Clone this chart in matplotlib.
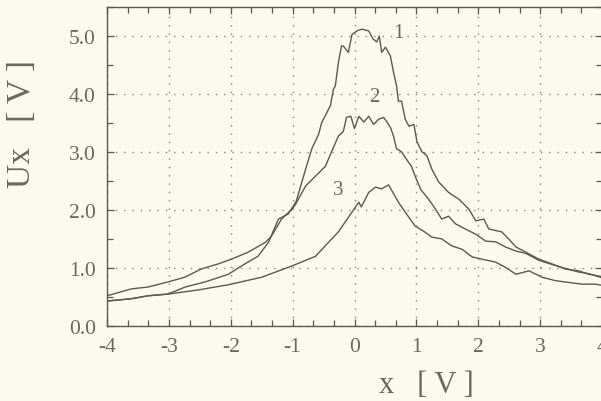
import matplotlib
matplotlib.use("Agg")
import matplotlib.pyplot as plt
from matplotlib.ticker import MultipleLocator

# values
x1 = [-4.0, -3.6, -3.34, -3.01, -2.74, -2.41, -2.04, -1.77, -1.56, -1.39, -1.23, -1.07, -0.94, -0.9,
      -0.79, -0.69, -0.58, -0.53, -0.42, -0.39, -0.34, -0.31, -0.26, -0.21, -0.18, -0.1, -0.04, 0.04,
      0.12, 0.23, 0.3, 0.36, 0.4, 0.44, 0.5, 0.58, 0.63, 0.68, 0.71, 0.76, 0.82, 0.88, 0.96, 1.01,
      1.09, 1.17, 1.25, 1.36, 1.52, 1.69, 1.85, 1.96, 2.09, 2.17, 2.38, 2.49, 2.61, 2.77, 2.98, 3.19,
      3.41, 3.62, 3.79, 4.0]
u1 = [0.43, 0.47, 0.52, 0.55, 0.67, 0.76, 0.89, 1.07, 1.2, 1.44, 1.84, 1.93, 2.15, 2.3,
      2.7, 3.05, 3.3, 3.5, 3.73, 3.79, 4.08, 4.13, 4.54, 4.82, 4.82, 4.71, 5.02, 5.08,
      5.11, 5.08, 4.94, 4.89, 4.99, 4.71, 4.8, 4.65, 4.37, 4.13, 3.87, 3.87, 3.56, 3.44, 3.47, 3.17,
      3.0, 2.93, 2.7, 2.48, 2.3, 2.18, 2.01, 1.81, 1.84, 1.67, 1.62, 1.5, 1.36, 1.27, 1.15, 1.07,
      0.98, 0.95, 0.89, 0.85]

x2 = [-4.0, -3.8, -3.6, -3.34, -3.01, -2.74, -2.48, -2.2, -1.99, -1.72, -1.44, -1.34, -1.18, -1.01,
      -0.95, -0.79, -0.63, -0.47, -0.37, -0.26, -0.18, -0.13, -0.06, 0.0, 0.07, 0.15, 0.23, 0.31,
      0.39, 0.47, 0.52, 0.58, 0.63, 0.68, 0.76, 0.84, 0.92, 0.98, 1.07, 1.2, 1.31, 1.41, 1.52, 1.63,
      1.79, 1.96, 2.12, 2.28, 2.44, 2.61, 2.77, 2.98, 3.19, 3.41, 3.62, 3.79, 4.0]
u2 = [0.52, 0.58, 0.64, 0.67, 0.76, 0.84, 0.98, 1.07, 1.15, 1.27, 1.44, 1.55, 1.84, 2.01,
      2.1, 2.41, 2.58, 2.75, 3.0, 3.27, 3.35, 3.59, 3.61, 3.4, 3.61, 3.51, 3.61, 3.47,
      3.56, 3.59, 3.52, 3.42, 3.27, 3.05, 3.0, 2.87, 2.75, 2.58, 2.35, 2.18, 2.01, 1.84, 1.89, 1.76,
      1.67, 1.58, 1.46, 1.45, 1.36, 1.29, 1.25, 1.13, 1.06, 0.99, 0.93, 0.9, 0.83]

x3 = [-4.0, -3.6, -3.34, -3.01, -2.53, -2.04, -1.5, -1.02, -0.63, -0.42, -0.26, -0.1, 0.07, 0.11,
      0.23, 0.34, 0.44, 0.55, 0.62, 0.71, 0.82, 0.98, 1.12, 1.25, 1.41, 1.57, 1.74, 1.9, 2.06,
      2.28, 2.44, 2.61, 2.82, 3.03, 3.25, 3.46, 3.68, 3.9, 4.0]
u3 = [0.43, 0.47, 0.52, 0.55, 0.62, 0.71, 0.84, 1.03, 1.2, 1.44, 1.62, 1.87, 2.13, 2.05,
      2.3, 2.39, 2.36, 2.43, 2.3, 2.13, 1.96, 1.72, 1.63, 1.53, 1.5, 1.38, 1.32, 1.19, 1.15,
      1.1, 1.01, 0.89, 0.95, 0.84, 0.78, 0.75, 0.72, 0.72, 0.7]

curve_labels = ["1", "2", "3"]
label_pos = [(0.71, 5.05), (0.32, 3.95), (-0.26, 2.35)]
xticks = [-4, -3, -2, -1, 0, 1, 2, 3, 4]
yticks = [0.0, 1.0, 2.0, 3.0, 4.0, 5.0]

bg = "#fafaee"
ink = "#5c5a50"
txt = "#6a685e"

plt.rcParams["font.family"] = ["Liberation Serif", "DejaVu Serif"]

fig = plt.figure(figsize=(6.01, 4.02), dpi=100, facecolor=bg)
ax = fig.add_axes([107 / 601, 75 / 402, 495 / 601, 319.5 / 402], facecolor=bg)

for xs, us in [(x1, u1), (x2, u2), (x3, u3)]:
    ax.plot(xs, us, color=ink, linewidth=1.0)

for lab, (lx, ly) in zip(curve_labels, label_pos):
    ax.text(lx, ly, lab, fontsize=15, color=txt, ha="center", va="center")

ax.set_xlim(-4, 4)
ax.set_ylim(0, 5.5)
ax.set_xticks(xticks, [f"{t}" for t in xticks])
ax.set_yticks(yticks, [f"{t:.1f}" for t in yticks])
ax.xaxis.set_minor_locator(MultipleLocator(1 / 3))
ax.yaxis.set_minor_locator(MultipleLocator(0.5))
ax.tick_params(which="both", direction="in", top=True, right=True, colors=ink,
               labelcolor=txt, labelsize=15.5, width=0.9)
ax.tick_params(which="major", length=5, pad=8)
ax.tick_params(which="minor", length=4)
ax.grid(True, which="major", linestyle=(0, (1, 5)), color="#8a887c", linewidth=1.0)
for s in ax.spines.values():
    s.set_color(ink)
    s.set_linewidth(1.0)

ax.set_xlabel("x   [ V ]", fontsize=22, color=txt)
ax.xaxis.set_label_coords(0.646, -0.138)
fig.text(22 / 601, 1 - 124 / 402, "Ux   [ V ]", rotation=90, fontsize=24, color=txt,
         ha="center", va="center")

fig.savefig("out.png", dpi=100, facecolor=bg)
